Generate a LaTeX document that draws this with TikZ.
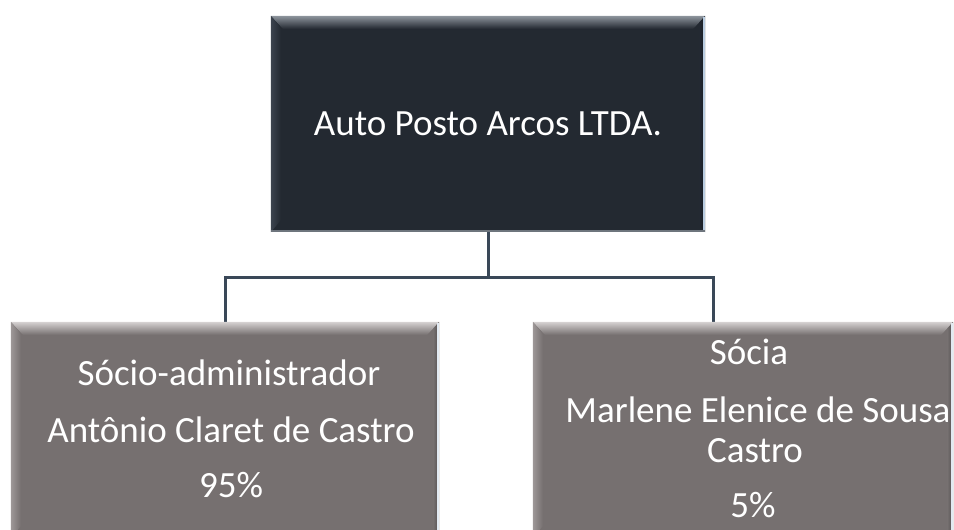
\documentclass[tikz,border=0pt]{standalone}
\usepackage{fontspec}
\setmainfont{Carlito}
\usetikzlibrary{calc}
\definecolor{topfill}{HTML}{232931}
\definecolor{topbevel}{HTML}{8E959D}
\definecolor{topleft}{HTML}{3C444E}
\definecolor{tophi}{HTML}{B9CCE0}
\definecolor{subfill}{HTML}{767070}
\definecolor{subbevel}{HTML}{D6D2D2}
\definecolor{subleft}{HTML}{9E9898}
\definecolor{subhi}{HTML}{E2EAF2}
\definecolor{connc}{HTML}{3A4858}
\newcommand\bevelit[5]{%
  \shade[top color=#2, bottom color=#4] (#1.north west) -- (#1.north east) -- ($(#1.north east)+(-12,13)$) -- ($(#1.north west)+(12,13)$) -- cycle;
  \shade[left color=#3, right color=#4] (#1.north west) -- ($(#1.north west)+(10,12)$) -- ($(#1.south west)+(10,-12)$) -- (#1.south west) -- cycle;
  \shade[left color=#4, right color=#4!70!black] ($(#1.north east)+(-6,7)$) -- (#1.north east) -- (#1.south east) -- ($(#1.south east)+(-6,-7)$) -- cycle;
  \fill[#5] ($(#1.north east)+(-2.5,1)$) rectangle (#1.south east);
}
\begin{document}
\begin{tikzpicture}[x=1pt,y=-1pt,
  box/.style={rectangle, inner sep=0pt, draw=none},
  lbl/.style={text=white, font=\fontsize{37}{42}\selectfont, anchor=base, inner sep=0pt},
  conn/.style={draw=connc, line width=3pt}]
\useasboundingbox (0,0) rectangle (954,530);
\clip (0,0) rectangle (954,530);
% connector points
\coordinate (mid) at (488,277);
\coordinate (rtop) at (713,322);
% boxes
\node[box, fill=topfill, minimum width=434pt, minimum height=216pt] (top) at (488,124) {};
\node[box, fill=subfill, minimum width=428pt, minimum height=216pt] (left) at (225,430) {};
\node[box, fill=subfill, minimum width=420pt, minimum height=216pt] (right) at (743,430) {};
% connectors
\draw[conn] (top.south) -- (mid);
\draw[conn] (left.north) |- (mid) -| (rtop);
% bevels
\bevelit{top}{topbevel}{topleft}{topfill}{tophi}
\fill[topbevel!70!topfill] ($(top.south west)+(0,-2)$) rectangle (top.south east);
\bevelit{left}{subbevel}{subleft}{subfill}{subhi}
\bevelit{right}{subbevel}{subleft}{subfill}{subhi}
% texts
\node[lbl] (t0) at (488,135) {Auto Posto Arcos LTDA.};
\node[lbl] (l1) at (229,385) {Sócio-administrador};
\node[lbl] (l2) at (231,442) {Antônio Claret de Castro};
\node[lbl] (l3) at (231,497) {95\%};
\node[lbl] (r1) at (749,364) {Sócia};
\node[lbl] (r2) at (758,422) {Marlene Elenice de Sousa};
\node[lbl] (r3) at (755,462) {Castro};
\node[lbl] (r4) at (753,517) {5\%};
\end{tikzpicture}
\end{document}
